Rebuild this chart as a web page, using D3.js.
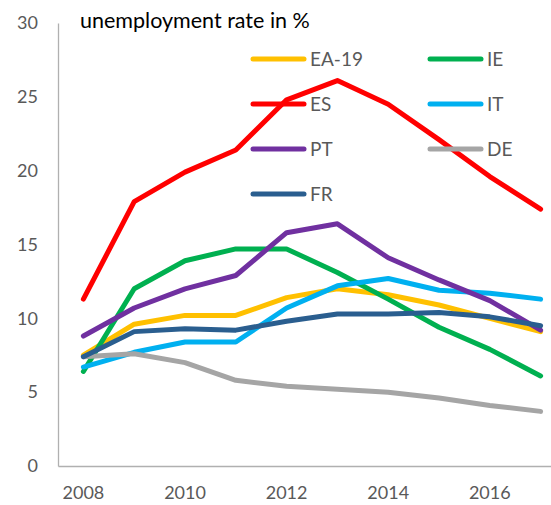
<!DOCTYPE html>
<html>
<head>
<meta charset="utf-8">
<script src="https://cdn.jsdelivr.net/npm/d3@7"></script>
<style>
  body { margin: 0; background: #fff; }
  text { font-family: Lato, "Open Sans", sans-serif; }
</style>
</head>
<body>
<svg width="551" height="505"></svg>
<script>
var years = [2008, 2009, 2010, 2011, 2012, 2013, 2014, 2015, 2016, 2017];
var yTicks = [0, 5, 10, 15, 20, 25, 30];
var xTickYears = [2008, 2010, 2012, 2014, 2016];

var seriesNames = ["EA-19", "IE", "ES", "IT", "PT", "DE", "FR"];
var seriesColors = ["#ffc000", "#00b050", "#ff0000", "#00b0f0", "#7030a0", "#a5a5a5", "#2a5e8f"];

var ea19 = [7.5, 9.6, 10.2, 10.2, 11.4, 12.0, 11.6, 10.9, 10.0, 9.1];
var ie   = [6.4, 12.0, 13.9, 14.7, 14.7, 13.1, 11.3, 9.4, 7.9, 6.1];
var es   = [11.3, 17.9, 19.9, 21.4, 24.8, 26.1, 24.5, 22.1, 19.6, 17.4];
var it   = [6.7, 7.7, 8.4, 8.4, 10.7, 12.2, 12.7, 11.9, 11.7, 11.3];
var pt   = [8.8, 10.7, 12.0, 12.9, 15.8, 16.4, 14.1, 12.6, 11.2, 9.2];
var de   = [7.4, 7.6, 7.0, 5.8, 5.4, 5.2, 5.0, 4.6, 4.1, 3.7];
var fr   = [7.4, 9.1, 9.3, 9.2, 9.8, 10.3, 10.3, 10.4, 10.1, 9.5];

var seriesValues = [ea19, ie, es, it, pt, de, fr];

var svg = d3.select("svg");

var x = d3.scaleBand().domain(years).range([58, 566]);
var y = d3.scaleLinear().domain([0, 30]).range([466, 23]);

function cx(yr) { return x(yr) + x.bandwidth() / 2; }

// axes
var yAxis = svg.append("g")
  .attr("transform", "translate(58,0)")
  .call(d3.axisLeft(y).tickValues(yTicks).tickSize(0).tickPadding(20));
yAxis.select(".domain").attr("stroke", "#b0b0b0").attr("stroke-width", 1.3);
yAxis.selectAll("text").attr("fill", "#595959").attr("font-size", 18);

var xAxis = svg.append("g")
  .attr("transform", "translate(0,466)")
  .call(d3.axisBottom(x).tickValues(xTickYears).tickSize(0).tickPadding(20));
xAxis.select(".domain").attr("stroke", "#b0b0b0").attr("stroke-width", 1.3);
xAxis.selectAll("text").attr("fill", "#595959").attr("font-size", 18);

// lines
var line = d3.line()
  .x(function(d, i) { return cx(years[i]); })
  .y(function(d) { return y(d); });

svg.append("g").selectAll("path")
  .data(seriesValues)
  .enter().append("path")
  .attr("d", line)
  .attr("fill", "none")
  .attr("stroke", function(d, i) { return seriesColors[i]; })
  .attr("stroke-width", 5)
  .attr("stroke-linecap", "round")
  .attr("stroke-linejoin", "round");

// title
svg.append("text")
  .attr("x", 80)
  .attr("y", 28)
  .attr("font-size", 21.5)
  .attr("fill", "#000")
  .text("unemployment rate in %");

// legend (row-major, two columns)
var legend = svg.append("g").selectAll("g")
  .data(seriesNames)
  .enter().append("g")
  .attr("transform", function(d, i) {
    return "translate(" + (i % 2 ? 430 : 253) + "," + (59 + Math.floor(i / 2) * 45) + ")";
  });

legend.append("line")
  .attr("x1", 0).attr("x2", 51)
  .attr("stroke", function(d, i) { return seriesColors[i]; })
  .attr("stroke-width", 5)
  .attr("stroke-linecap", "round");

legend.append("text")
  .attr("x", 57)
  .attr("dy", "0.35em")
  .attr("font-size", 19)
  .attr("fill", "#595959")
  .text(function(d) { return d; });
</script>
</body>
</html>
